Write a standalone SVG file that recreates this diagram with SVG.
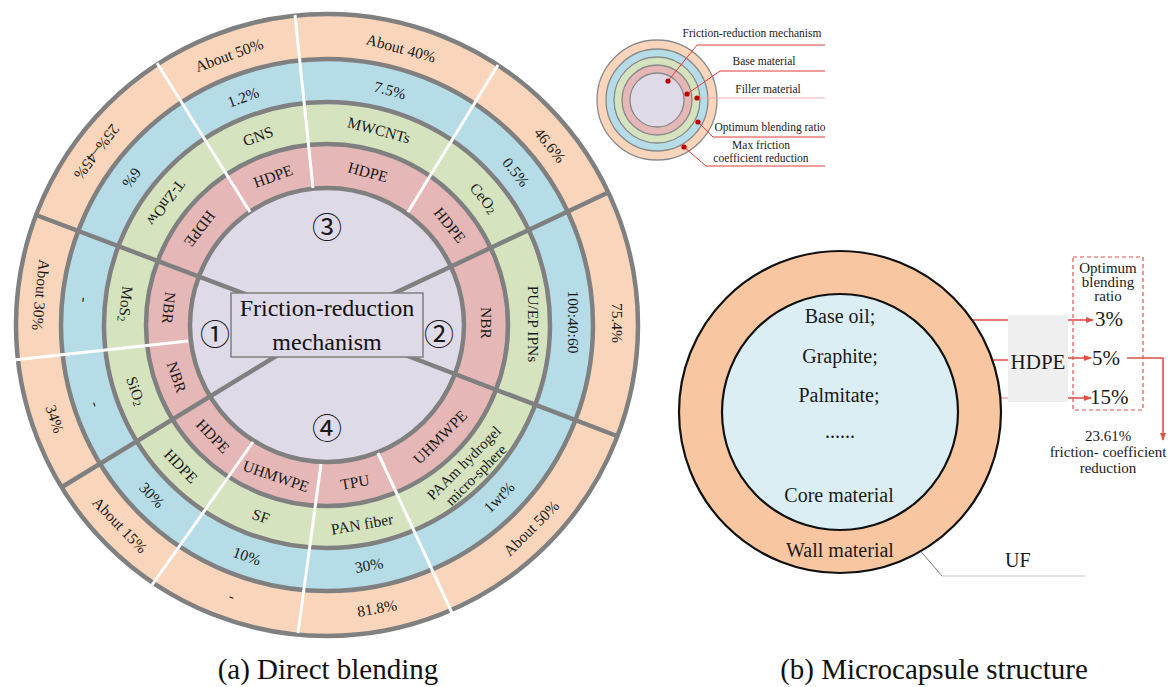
<svg xmlns="http://www.w3.org/2000/svg" width="1171" height="687" viewBox="0 0 1171 687">
<style>
.t{font-family:"Liberation Serif",serif;font-size:15.5px;fill:#1a1a1a;text-anchor:middle;dominant-baseline:central}
.ring{stroke:#808080;stroke-width:4.5}
.gl{stroke:#808080;stroke-width:4.5;stroke-linecap:butt}
.wl{stroke:#ffffff;stroke-width:3}
.m{font-family:"Liberation Serif",serif;font-size:20px;fill:#1a1a1a;text-anchor:middle}
.s{font-family:"Liberation Serif",serif;font-size:15px;fill:#1a1a1a;text-anchor:middle}
.lg{font-family:"Liberation Serif",serif;font-size:11.5px;fill:#1a1a1a;text-anchor:middle}
.rl{stroke:#E0524A;stroke-width:1.6;fill:none}
.ll{stroke:#E23B3B;stroke-width:1;fill:none}
.cap{font-family:"Liberation Serif",serif;font-size:29px;fill:#111;text-anchor:middle}
.cn{font-family:"Liberation Serif","Noto Sans CJK SC",sans-serif;font-size:30px;fill:#1a1a1a;text-anchor:middle;dominant-baseline:central}
</style>
<defs>
<marker id="ah" markerWidth="8" markerHeight="6" refX="7" refY="3" orient="auto" markerUnits="userSpaceOnUse"><path d="M0,0 L8,3 L0,6 z" fill="#E0524A"/></marker>
</defs>
<rect width="1171" height="687" fill="#ffffff"/>

<!-- (a) ring chart -->
<g id="ring-chart">
<circle class="ring" cx="327" cy="325" r="311" fill="#F9D6BB"/>
<circle class="ring" cx="327" cy="325" r="266" fill="#B5DCE7"/>
<circle class="ring" cx="327" cy="325" r="223" fill="#D6E3BF"/>
<circle class="ring" cx="327" cy="325" r="181" fill="#E5B8B7"/>
<circle class="ring" cx="327" cy="325" r="137" fill="#DEDAE7"/>
<g id="white-dividers">
<line class="wl" x1="250" y1="212" x2="157" y2="63"/>
<line class="wl" x1="313" y1="188" x2="295" y2="15"/>
<line class="wl" x1="408" y1="212" x2="498" y2="65"/>
<line class="wl" x1="188" y1="341" x2="14" y2="360"/>
<line class="wl" x1="253" y1="442" x2="152" y2="585"/>
<line class="wl" x1="321" y1="464" x2="298" y2="633"/>
<line class="wl" x1="378" y1="453" x2="452" y2="613"/>
</g>
<g id="gray-dividers">
<line class="gl" x1="327" y1="325" x2="36" y2="215"/>
<line class="gl" x1="327" y1="325" x2="607" y2="193"/>
<line class="gl" x1="327" y1="325" x2="617" y2="436"/>
<line class="gl" x1="327" y1="325" x2="62" y2="487"/>
</g>
</g>

<g id="center-node">
<rect x="231" y="293" width="192" height="64" fill="#DEDAE7" stroke="#808080" stroke-width="1.5"/>
<text class="cap" style="font-size:24px" x="327" y="316">Friction-reduction</text>
<text class="cap" style="font-size:24px" x="327" y="350">mechanism</text>
</g>

<g id="numbers">
<text class="cn" x="215" y="334">①</text>
<text class="cn" x="439" y="334">②</text>
<text class="cn" x="327" y="227">③</text>
<text class="cn" x="327" y="428">④</text>
</g>

<g id="item-A">
<text class="t" transform="translate(41 295) rotate(96)">About 30%</text>
<text class="t" transform="translate(85 300) rotate(96)">-</text>
<text class="t" transform="translate(126 304) rotate(96)">MoS<tspan font-size="11" dy="3">2</tspan></text>
<text class="t" transform="translate(169 308) rotate(96)">NBR</text>
</g>
<g id="item-B">
<text class="t" transform="translate(55 419) rotate(71)">34%</text>
<text class="t" transform="translate(96 404) rotate(71)">-</text>
<text class="t" transform="translate(136 391) rotate(71)">SiO<tspan font-size="11" dy="3">2</tspan></text>
<text class="t" transform="translate(177 377) rotate(71)">NBR</text>
</g>
<g id="item-C">
<text class="t" transform="translate(97 152) rotate(127)">25%–45%</text>
<text class="t" transform="translate(132 178) rotate(127)">6%</text>
<text class="t" transform="translate(166 203) rotate(127)">T-ZnOw</text>
<text class="t" transform="translate(200 229) rotate(127)">HDPE</text>
</g>
<g id="item-D">
<text class="t" transform="translate(229 55) rotate(-20)">About 50%</text>
<text class="t" transform="translate(243 97) rotate(-20)">1.2%</text>
<text class="t" transform="translate(258 136) rotate(-20)">GNS</text>
<text class="t" transform="translate(273 176) rotate(-20)">HDPE</text>
</g>
<g id="item-E">
<text class="t" transform="translate(401 48) rotate(15)">About 40%</text>
<text class="t" transform="translate(390 90) rotate(15)">7.5%</text>
<text class="t" transform="translate(379 130) rotate(15)">MWCNTs</text>
<text class="t" transform="translate(368 172) rotate(15)">HDPE</text>
</g>
<g id="item-F">
<text class="t" transform="translate(550 145) rotate(51)">46.6%</text>
<text class="t" transform="translate(516 172) rotate(51)">0.5%</text>
<text class="t" transform="translate(484 198) rotate(51)">CeO<tspan font-size="11" dy="3">2</tspan></text>
<text class="t" transform="translate(450 225) rotate(51)">HDPE</text>
</g>
<g id="item-G">
<text class="t" transform="translate(617 323) rotate(90)">75.4%</text>
<text class="t" transform="translate(573 322) rotate(90)">100:40:60</text>
<text class="t" transform="translate(533 324) rotate(90)">PU/EP IPNs</text>
<text class="t" transform="translate(486 323) rotate(90)">NBR</text>
</g>
<g id="item-H">
<text class="t" transform="translate(531 528) rotate(-45)">About 50%</text>
<text class="t" transform="translate(499 497) rotate(-45)">1wt%</text>
<text class="t" style="font-size:15px" transform="translate(470 469) rotate(-45)"><tspan x="0" y="-8.5">PAAm hydrogel</tspan><tspan x="0" y="8.5">micro-sphere</tspan></text>
<text class="t" transform="translate(440 437) rotate(-45)">UHMWPE</text>
</g>
<g id="item-I">
<text class="t" transform="translate(377 608) rotate(-10)">81.8%</text>
<text class="t" transform="translate(369 565) rotate(-10)">30%</text>
<text class="t" transform="translate(362 524) rotate(-10)">PAN fiber</text>
<text class="t" transform="translate(355 482) rotate(-10)">TPU</text>
</g>
<g id="item-J">
<text class="t" transform="translate(232 596) rotate(19)">-</text>
<text class="t" transform="translate(247 556) rotate(19)">10%</text>
<text class="t" transform="translate(261 516) rotate(19)">SF</text>
<text class="t" transform="translate(276 476) rotate(19)">UHMWPE</text>
</g>
<g id="item-K">
<text class="t" transform="translate(120 525) rotate(46)">About 15%</text>
<text class="t" transform="translate(152 495) rotate(46)">30%</text>
<text class="t" transform="translate(181 466) rotate(46)">HDPE</text>
<text class="t" transform="translate(213 436) rotate(46)">HDPE</text>
</g>

<!-- legend -->
<g id="legend">
<circle cx="657" cy="100" r="60" fill="#F9D6BB" stroke="#8a8a8a" stroke-width="1.3"/>
<circle cx="657" cy="100" r="51" fill="#B5DCE7" stroke="#8a8a8a" stroke-width="1.3"/>
<circle cx="657" cy="100" r="43" fill="#D6E3BF" stroke="#8a8a8a" stroke-width="1.3"/>
<circle cx="657" cy="100" r="35" fill="#E5B8B7" stroke="#8a8a8a" stroke-width="1.3"/>
<circle cx="657" cy="100" r="27" fill="#DEDAE7" stroke="#8a8a8a" stroke-width="1.3"/>
<text class="lg" x="752" y="37">Friction-reduction mechanism</text>
<text class="lg" x="764" y="65">Base material</text>
<text class="lg" x="768" y="93">Filler material</text>
<text class="lg" x="770" y="131">Optimum blending ratio</text>
<text class="lg" x="761" y="149">Max friction</text>
<text class="lg" x="761" y="162">coefficient reduction</text>
</g>

<g id="connectors">
<polyline class="ll" points="668,81 697,45 825,45"/>
<polyline class="ll" points="687,94 720,71 825,71"/>
<polyline class="ll" points="697,98 825,98" style="stroke:#F2AFAF"/>
<polyline class="ll" points="698,122 713,137 825,137"/>
<polyline class="ll" points="684,147 706,166 825,166"/>
<line class="rl" x1="881" y1="320" x2="1008" y2="320"/>
<line class="rl" x1="881" y1="360" x2="1008" y2="360"/>
<line class="rl" x1="881" y1="398" x2="1008" y2="398" style="stroke:#E88A84;stroke-width:1.2"/>
<line class="rl" x1="1068" y1="320" x2="1093" y2="320" marker-end="url(#ah)"/>
<line class="rl" x1="1068" y1="358" x2="1091" y2="358" marker-end="url(#ah)"/>
<line class="rl" x1="1068" y1="398" x2="1091" y2="398" marker-end="url(#ah)"/>
<polyline class="rl" points="1127,358 1163,358 1163,440" marker-end="url(#ah)"/>
<line x1="905" y1="533" x2="942" y2="576" stroke="#555" stroke-width="0.8"/>
<line x1="942" y1="576" x2="1085" y2="576" stroke="#dcdcdc" stroke-width="1.5"/>
</g>
<g id="legend-dots" fill="#C00000">
<circle cx="668" cy="81" r="2.6"/>
<circle cx="687" cy="94" r="2.6"/>
<circle cx="697" cy="98" r="2.6"/>
<circle cx="698" cy="122" r="2.6"/>
<circle cx="684" cy="147" r="2.6"/>
</g>

<!-- (b) microcapsule -->
<g id="microcapsule">
<circle cx="840" cy="412" r="161" fill="#F8C7A2" stroke="#111" stroke-width="2.2"/>
<circle cx="840" cy="412" r="118" fill="#DAEEF4" stroke="#111" stroke-width="2.2"/>
<text class="m" x="840" y="323">Base oil;</text>
<text class="m" x="840" y="363">Graphite;</text>
<text class="m" x="839" y="402">Palmitate;</text>
<text class="m" x="840" y="438">......</text>
<text class="m" x="839" y="502">Core material</text>
<text class="m" x="840" y="557">Wall material</text>
</g>
<g id="hdpe-node">
<rect x="1008" y="315" width="60" height="87" fill="#EFEFEF"/>
<text class="m" style="font-size:21px" x="1038" y="369">HDPE</text>
</g>
<g id="ratio-node">
<rect x="1073" y="257" width="70" height="153" fill="none" stroke="#E0524A" stroke-width="1.2" stroke-dasharray="4,3"/>
<text class="s" x="1108" y="273">Optimum</text>
<text class="s" x="1108" y="287">blending</text>
<text class="s" x="1108" y="301">ratio</text>
<text class="m" style="font-size:21px;text-anchor:start" x="1095" y="326">3%</text>
<text class="m" style="font-size:21px;text-anchor:start" x="1092" y="365">5%</text>
<text class="m" style="font-size:21px;text-anchor:start" x="1090" y="404">15%</text>
</g>
<g id="result-node">
<text class="s" x="1108" y="441">23.61%</text>
<text class="s" x="1108" y="457">friction- coefficient</text>
<text class="s" x="1108" y="473">reduction</text>
</g>
<g id="uf-label">
<text class="m" style="text-anchor:start" x="1005" y="567">UF</text>
</g>

<text class="cap" x="328" y="679">(a) Direct blending</text>
<text class="cap" x="934" y="679">(b) Microcapsule structure</text>
</svg>
